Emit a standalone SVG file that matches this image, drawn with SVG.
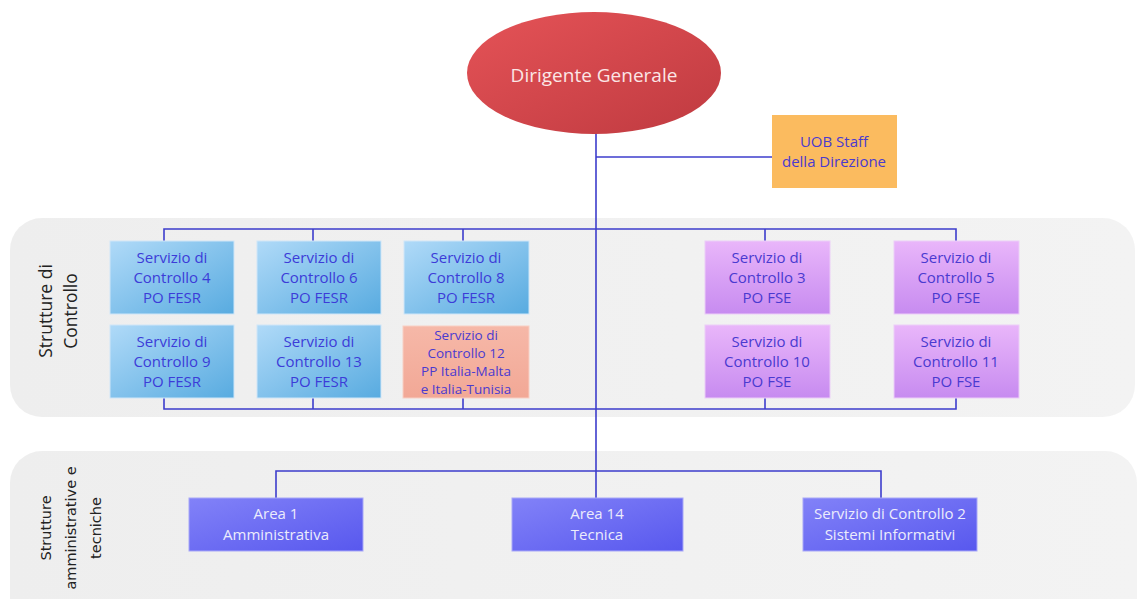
<svg xmlns="http://www.w3.org/2000/svg" width="1137" height="599" viewBox="0 0 1137 599">
<defs>
<linearGradient id="gRed" x1="0" y1="0" x2="1" y2="1"><stop offset="0" stop-color="#e55357"/><stop offset="1" stop-color="#bf3a40"/></linearGradient>
<linearGradient id="gBlue" x1="0" y1="0" x2="1" y2="1"><stop offset="0" stop-color="#b0daf8"/><stop offset="1" stop-color="#58abe0"/></linearGradient>
<linearGradient id="gPurple" x1="0" y1="0" x2="0" y2="1"><stop offset="0" stop-color="#e9b6fa"/><stop offset="1" stop-color="#c78bf0"/></linearGradient>
<linearGradient id="gPink" x1="0" y1="0" x2="0" y2="1"><stop offset="0" stop-color="#f6b8a8"/><stop offset="1" stop-color="#f2a896"/></linearGradient>
<linearGradient id="gArea" x1="0" y1="0" x2="1" y2="1"><stop offset="0" stop-color="#8282f8"/><stop offset="1" stop-color="#5858ee"/></linearGradient>
<linearGradient id="gPanel" x1="0" y1="0" x2="1" y2="0"><stop offset="0" stop-color="#eeeeee"/><stop offset="1" stop-color="#f3f3f3"/></linearGradient>
</defs>
<style>
.panel{fill:url(#gPanel)}
.lbl{font-family:"Open Sans","Liberation Sans",sans-serif;font-size:17.5px;fill:#222;text-anchor:middle}
.lbl2{font-family:"DejaVu Sans","Liberation Sans",sans-serif;font-size:14.5px;fill:#222;text-anchor:middle}
.conn{stroke:#3d3dcc;stroke-width:1.6;fill:none}
.t{font-family:"Open Sans","Liberation Sans",sans-serif;font-size:15px;text-anchor:middle}
.tb{fill:#3c3cd8}
.tp{fill:#4a3ad0}
.tw{fill:#ececfc}
.blue{fill:url(#gBlue);stroke:#cfe6f8;stroke-width:1}
.purple{fill:url(#gPurple);stroke:#eccdf8;stroke-width:1}
.area{fill:url(#gArea);stroke:#a8a8f8;stroke-width:1}
</style>
<rect width="1137" height="599" fill="#ffffff"/>
<g id="panel-controllo">
<rect class="panel" x="10" y="218" width="1125" height="199" rx="32"/>
<text class="lbl" transform="translate(52,311) rotate(-90)">Strutture di</text>
<text class="lbl" transform="translate(77,311) rotate(-90)">Controllo</text>
</g>
<g id="panel-amministrative">
<rect class="panel" x="10" y="451" width="1127" height="180" rx="32"/>
<text class="lbl2" transform="translate(51,528) rotate(-90)">Strutture</text>
<text class="lbl2" transform="translate(76,528) rotate(-90)">amministrative e</text>
<text class="lbl2" transform="translate(101,528) rotate(-90)">tecniche</text>
</g>
<g id="connectors">
<path class="conn" d="M596,133 V498"/>
<path class="conn" d="M596,157 H772"/>
<path class="conn" d="M164,241 V229 H956 V241 M313,229 V241 M463,229 V241 M765,229 V241"/>
<path class="conn" d="M164,397 V409 H956 V397 M313,397 V409 M463,397 V409 M765,397 V409"/>
<path class="conn" d="M276,498 V471 H881 V498"/>
</g>
<g id="dirigente">
<ellipse cx="594" cy="73" rx="127" ry="61" fill="url(#gRed)"/>
<text class="t" x="594" y="82" style="font-size:19px;fill:#fbe6e6">Dirigente Generale</text>
</g>
<g id="uob">
<rect x="772" y="115" width="125" height="73" fill="#fbbb5f"/>
<text class="t tp" x="834" y="147">UOB Staff</text>
<text class="t tp" x="834" y="167">della Direzione</text>
</g>
<g id="sc4"><rect class="blue" x="110" y="241" width="124" height="73"/>
<text class="t tb" x="172" y="263">Servizio di</text><text class="t tb" x="172" y="283">Controllo 4</text><text class="t tb" x="172" y="303">PO FESR</text></g>
<g id="sc6"><rect class="blue" x="257" y="241" width="124" height="73"/>
<text class="t tb" x="319" y="263">Servizio di</text><text class="t tb" x="319" y="283">Controllo 6</text><text class="t tb" x="319" y="303">PO FESR</text></g>
<g id="sc8"><rect class="blue" x="404" y="241" width="125" height="73"/>
<text class="t tb" x="466" y="263">Servizio di</text><text class="t tb" x="466" y="283">Controllo 8</text><text class="t tb" x="466" y="303">PO FESR</text></g>
<g id="sc9"><rect class="blue" x="110" y="325" width="124" height="73"/>
<text class="t tb" x="172" y="347">Servizio di</text><text class="t tb" x="172" y="367">Controllo 9</text><text class="t tb" x="172" y="387">PO FESR</text></g>
<g id="sc13"><rect class="blue" x="257" y="325" width="124" height="73"/>
<text class="t tb" x="319" y="347">Servizio di</text><text class="t tb" x="319" y="367">Controllo 13</text><text class="t tb" x="319" y="387">PO FESR</text></g>
<g id="sc12"><rect x="403" y="326" width="126" height="72" fill="url(#gPink)" stroke="#f8cfc4" stroke-width="1"/>
<text class="t tp" x="466" y="340" style="font-size:13.5px">Servizio di</text><text class="t tp" x="466" y="358" style="font-size:13.5px">Controllo 12</text><text class="t tp" x="466" y="376" style="font-size:13.5px">PP Italia-Malta</text><text class="t tp" x="466" y="394" style="font-size:13.5px">e Italia-Tunisia</text></g>
<g id="sc3"><rect class="purple" x="705" y="241" width="125" height="73"/>
<text class="t tp" x="767" y="263">Servizio di</text><text class="t tp" x="767" y="283">Controllo 3</text><text class="t tp" x="767" y="303">PO FSE</text></g>
<g id="sc5"><rect class="purple" x="894" y="241" width="125" height="73"/>
<text class="t tp" x="956" y="263">Servizio di</text><text class="t tp" x="956" y="283">Controllo 5</text><text class="t tp" x="956" y="303">PO FSE</text></g>
<g id="sc10"><rect class="purple" x="705" y="325" width="125" height="73"/>
<text class="t tp" x="767" y="347">Servizio di</text><text class="t tp" x="767" y="367">Controllo 10</text><text class="t tp" x="767" y="387">PO FSE</text></g>
<g id="sc11"><rect class="purple" x="894" y="325" width="125" height="73"/>
<text class="t tp" x="956" y="347">Servizio di</text><text class="t tp" x="956" y="367">Controllo 11</text><text class="t tp" x="956" y="387">PO FSE</text></g>
<g id="area1"><rect class="area" x="189" y="498" width="174" height="53"/>
<text class="t tw" x="276" y="519">Area 1</text><text class="t tw" x="276" y="540">Amministrativa</text></g>
<g id="area14"><rect class="area" x="512" y="498" width="171" height="53"/>
<text class="t tw" x="597" y="519">Area 14</text><text class="t tw" x="597" y="540">Tecnica</text></g>
<g id="sc2"><rect class="area" x="803" y="498" width="174" height="53"/>
<text class="t tw" x="890" y="519">Servizio di Controllo 2</text><text class="t tw" x="890" y="540">Sistemi Informativi</text></g>
</svg>
